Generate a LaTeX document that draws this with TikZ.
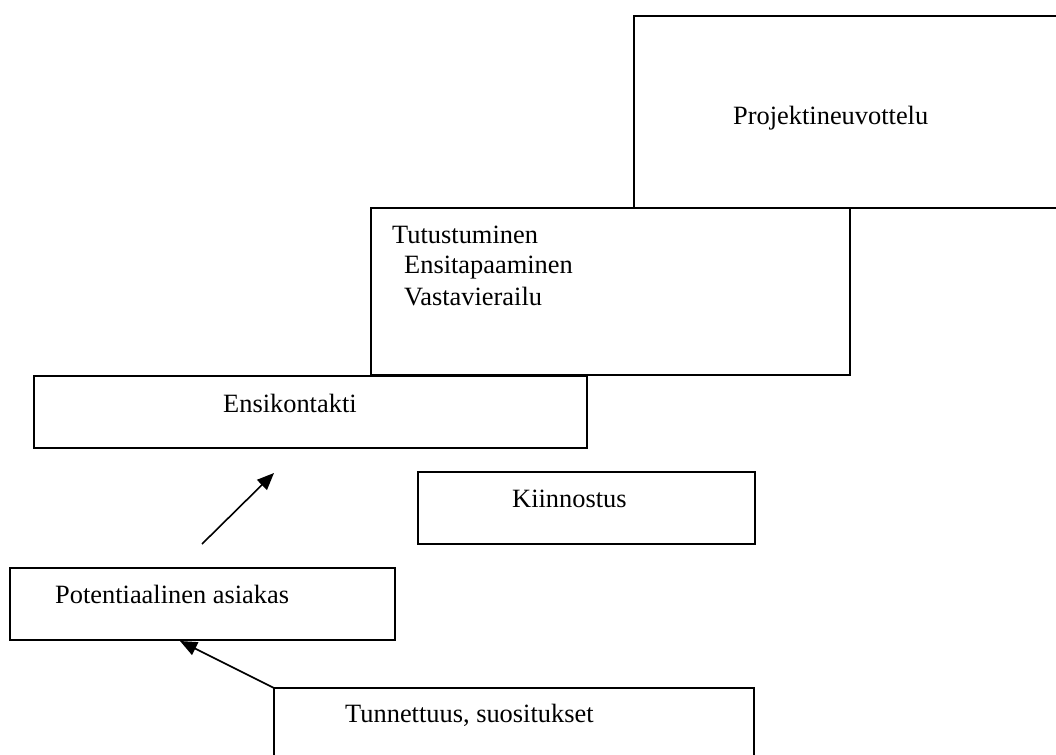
\documentclass[tikz,border=0pt]{standalone}
\usepackage{fontspec}
\setmainfont{Liberation Serif}
\usetikzlibrary{arrows.meta}
\begin{document}
\begin{tikzpicture}[x=1pt,y=-1pt,
  box/.style={draw=black,line width=1.5pt,rectangle,inner sep=0pt,outer sep=0pt,anchor=north west},
  lbl/.style={inner sep=0pt,anchor=base west,font=\fontsize{26.4pt}{31pt}\selectfont},
  conn/.style={line width=1.6pt,-{Triangle[length=17pt,width=14pt]}}]
\useasboundingbox (0,0) rectangle (1056,754);
\clip (0,0) rectangle (1056,754);
\fill[white] (0,0) rectangle (1056,754);
% boxes
\node[box,minimum width=440pt,minimum height=192pt] (proj) at (634,16) {};
\node[box,minimum width=479pt,minimum height=167pt] (tutu) at (371,208) {};
\node[box,minimum width=553pt,minimum height=72pt] (ensi) at (34,376) {};
\node[box,minimum width=337pt,minimum height=72pt] (kiin) at (418,472) {};
\node[box,minimum width=385pt,minimum height=72pt] (pote) at (10,568) {};
\node[box,minimum width=480pt,minimum height=90pt] (tunn) at (274,688) {};
% texts
\node[lbl] (tproj) at (733,125) {Projektineuvottelu};
\node[lbl] (ttutu) at (392,243) {Tutustuminen};
\node[lbl] (ttutu2) at (404,273) {Ensitapaaminen};
\node[lbl] (ttutu3) at (404,305) {Vastavierailu};
\node[lbl] (tensi) at (223,412) {Ensikontakti};
\node[lbl] (tkiin) at (512,507) {Kiinnostus};
\node[lbl] (tpote) at (55,603) {Potentiaalinen asiakas};
\node[lbl] (ttunn) at (345,722) {Tunnettuus, suositukset};
% connectors
\coordinate (a1s) at (202,544);
\coordinate (a1e) at (274,473);
\draw[conn] (a1s) -- (a1e);
\coordinate (a2e) at (180,641);
\draw[conn] (tunn.north west) -- (a2e);
\end{tikzpicture}
\end{document}
